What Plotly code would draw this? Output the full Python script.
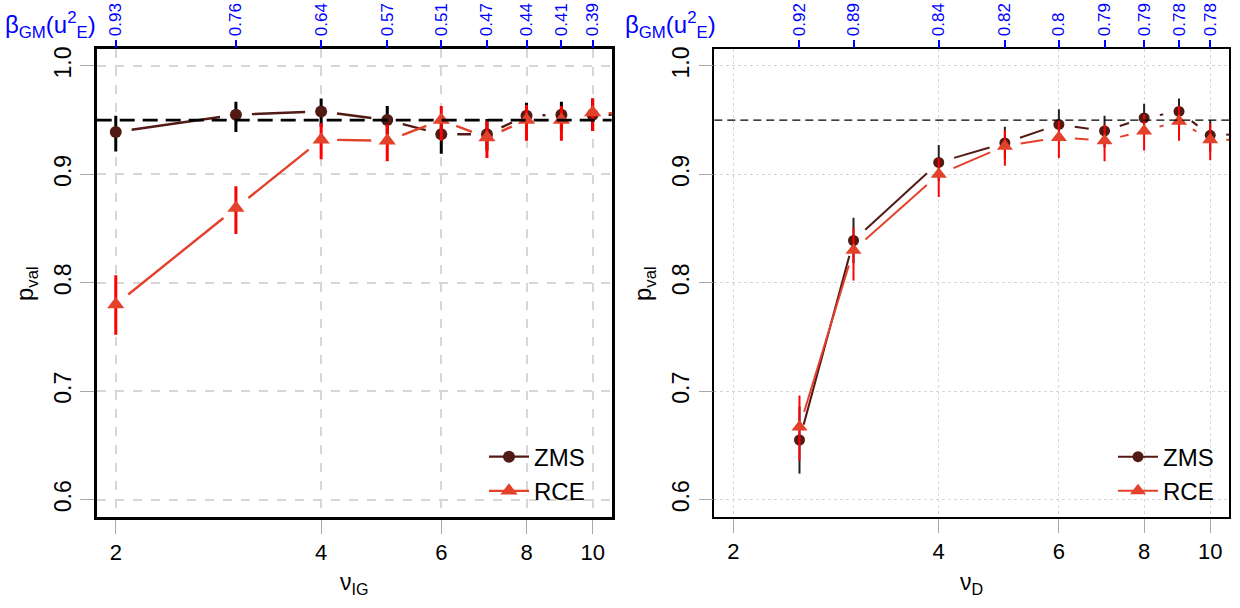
import numpy as np
import plotly.graph_objects as go

# ---------------- data ----------------
nu_ig = [2, 3, 4, 5, 6, 7, 8, 9, 10, 12]
beta_left = ["0.93", "0.76", "0.64", "0.57", "0.51", "0.47", "0.44", "0.41", "0.39"]
zms_left = [0.939, 0.955, 0.958, 0.950, 0.937, 0.937, 0.954, 0.955, 0.955, 0.955]
zms_left_lo = [0.921, 0.939, 0.944, 0.937, 0.919, 0.922, 0.940, 0.941, 0.940, 0.940]
zms_left_hi = [0.954, 0.967, 0.970, 0.963, 0.950, 0.951, 0.966, 0.967, 0.970, 0.970]
rce_left = [0.780, 0.869, 0.932, 0.931, 0.950, 0.934, 0.950, 0.950, 0.957, 0.955]
rce_left_lo = [0.752, 0.845, 0.914, 0.912, 0.931, 0.915, 0.931, 0.931, 0.940, 0.938]
rce_left_hi = [0.807, 0.889, 0.947, 0.946, 0.963, 0.949, 0.964, 0.963, 0.970, 0.968]

nu_d = [2.5, 3, 4, 5, 6, 7, 8, 9, 10, 12]
beta_right = ["0.92", "0.89", "0.84", "0.82", "0.8", "0.79", "0.79", "0.78", "0.78"]
zms_right = [0.655, 0.839, 0.911, 0.929, 0.946, 0.940, 0.952, 0.958, 0.936, 0.938]
zms_right_lo = [0.624, 0.818, 0.894, 0.914, 0.932, 0.925, 0.939, 0.946, 0.921, 0.923]
zms_right_hi = [0.686, 0.860, 0.927, 0.944, 0.960, 0.954, 0.965, 0.970, 0.950, 0.952]
rce_right = [0.667, 0.830, 0.900, 0.926, 0.934, 0.931, 0.940, 0.949, 0.932, 0.932]
rce_right_lo = [0.636, 0.802, 0.879, 0.908, 0.915, 0.912, 0.922, 0.931, 0.913, 0.913]
rce_right_hi = [0.696, 0.851, 0.915, 0.941, 0.950, 0.946, 0.955, 0.963, 0.947, 0.947]

x_ticks = [2, 4, 6, 8, 10]
y_ticks = [0.6, 0.7, 0.8, 0.9, 1.0]
target = 0.95

# ---------------- style ----------------
W, H = 1240, 608
ZMS_COL = "#521a14"
RCE_COL = "#e4412b"
BLUE = "#0000ff"
FONT = "Liberation Sans, Arial, sans-serif"
XR = [np.log10(2) - 0.04 * np.log10(5), 1 + 0.04 * np.log10(5)]
YR = [0.6 - 0.016, 1.0 + 0.016]
left_px = (96.7, 611.7)
right_px = (714.3, 1229.3)
top_px, bot_px = 46.7, 516.7
PPD = (left_px[1] - left_px[0]) / (XR[1] - XR[0])
PPU = (bot_px - top_px) / (YR[1] - YR[0])
GAP = 16.0


def gapped(xs, ys):
    """Line segments between consecutive points, with a gap round each point (R type='b')."""
    sx, sy = [], []
    for i in range(len(xs) - 1):
        lx1, lx2 = np.log10(xs[i]), np.log10(xs[i + 1])
        dx = (lx2 - lx1) * PPD
        dy = (ys[i + 1] - ys[i]) * PPU
        L = np.hypot(dx, dy)
        if L <= 2 * GAP:
            continue
        f = GAP / L
        a, b = f, 1 - f
        sx += [10 ** (lx1 + a * (lx2 - lx1)), 10 ** (lx1 + b * (lx2 - lx1)), None]
        sy += [ys[i] + a * (ys[i + 1] - ys[i]), ys[i] + b * (ys[i + 1] - ys[i]), None]
    return sx, sy


fig = go.Figure()


def add_panel(xs, series, xa, ya, lw, ew, msz, legend):
    for name, y, lo, hi, col, ecol, sym in series:
        y = np.array(y)
        sx, sy = gapped(xs, list(y))
        size = msz + (3 if sym == "triangle-up" else 0)
        fig.add_trace(go.Scatter(x=sx, y=sy, mode="lines", line=dict(color=col, width=lw),
                                 xaxis=xa, yaxis=ya, showlegend=False, hoverinfo="skip"))
        fig.add_trace(go.Scatter(
            x=xs, y=y, mode="markers",
            marker=dict(color=col, size=size, symbol=sym, line=dict(width=0)),
            error_y=dict(type="data", array=np.array(hi) - y, arrayminus=y - np.array(lo),
                         color=ecol, thickness=ew, width=0),
            xaxis=xa, yaxis=ya, showlegend=False))
        fig.add_trace(go.Scatter(
            x=[None], y=[None], mode="lines+markers", name=name,
            line=dict(color=col, width=lw),
            marker=dict(color=col, size=size, symbol=sym),
            xaxis=xa, yaxis=ya, legend=legend, showlegend=True))


add_panel(nu_ig, [("ZMS", zms_left, zms_left_lo, zms_left_hi, ZMS_COL, "#000000", "circle"),
                  ("RCE", rce_left, rce_left_lo, rce_left_hi, RCE_COL, "#ff0000", "triangle-up")],
          "x", "y", 2.4, 3, 12, "legend")
add_panel(nu_d, [("ZMS", zms_right, zms_right_lo, zms_right_hi, ZMS_COL, "#222222", "circle"),
                 ("RCE", rce_right, rce_right_lo, rce_right_hi, RCE_COL, "#ff0000", "triangle-up")],
          "x2", "y2", 2.0, 2, 11, "legend2")

# invisible traces to bind the top axes
fig.add_trace(go.Scatter(x=[nu_ig[0]], y=[None], xaxis="x3", yaxis="y", showlegend=False, hoverinfo="skip"))
fig.add_trace(go.Scatter(x=[nu_d[0]], y=[None], xaxis="x4", yaxis="y2", showlegend=False, hoverinfo="skip"))

dom_y = [1 - bot_px / H, 1 - top_px / H]
dom_l = [left_px[0] / W, left_px[1] / W]
dom_r = [right_px[0] / W, right_px[1] / W]


def xaxis_cfg(dom, grid_dash, grid_w, line_w, anchor):
    return dict(domain=dom, anchor=anchor, type="log", range=XR, tickvals=x_ticks,
                ticktext=[str(v) for v in x_ticks], ticks="outside", ticklen=14, tickwidth=1,
                tickcolor="#a8a8a8", tickfont=dict(size=22, color="#000000"),
                showgrid=True, gridcolor="#d6d6d6", griddash=grid_dash, gridwidth=grid_w,
                showline=True, mirror=True, linecolor="#000000", linewidth=line_w, zeroline=False)


def yaxis_cfg(grid_dash, grid_w, line_w, anchor):
    return dict(domain=dom_y, anchor=anchor, range=YR, tickvals=y_ticks,
                ticktext=["%.1f" % v for v in y_ticks], tickangle=-90, ticks="outside", ticklen=14,
                tickwidth=1, tickcolor="#a8a8a8", tickfont=dict(size=23, color="#000000"),
                showgrid=True, gridcolor="#d6d6d6", griddash=grid_dash, gridwidth=grid_w,
                showline=True, mirror=True, linecolor="#000000", linewidth=line_w, zeroline=False)


def top_cfg(over, anchor, vals, labels):
    return dict(overlaying=over, anchor=anchor, side="top", type="log", range=XR,
                tickvals=vals, ticktext=labels, tickangle=-90, ticks="outside", ticklen=8,
                tickwidth=1.5, tickcolor=BLUE, tickfont=dict(size=17, color=BLUE),
                showgrid=False, showline=False, zeroline=False)


fig.update_layout(
    width=W, height=H, margin=dict(l=0, r=0, t=0, b=0),
    paper_bgcolor="white", plot_bgcolor="white",
    font=dict(family=FONT, size=22, color="#000000"),
    xaxis=xaxis_cfg(dom_l, "dash", 2, 3, "y"),
    yaxis=yaxis_cfg("dash", 2, 3, "x"),
    xaxis2=xaxis_cfg(dom_r, "dot", 1, 1.5, "y2"),
    yaxis2=yaxis_cfg("dot", 1, 1.5, "x2"),
    xaxis3=top_cfg("x", "y", nu_ig[:9], beta_left),
    xaxis4=top_cfg("x2", "y2", nu_d[:9], beta_right),
    legend=dict(x=484 / W, y=1 - 434 / H, xanchor="left", yanchor="top", bgcolor="rgba(0,0,0,0)",
                font=dict(size=24), tracegroupgap=0, itemwidth=40),
    legend2=dict(x=1113 / W, y=1 - 434 / H, xanchor="left", yanchor="top", bgcolor="rgba(0,0,0,0)",
                 font=dict(size=24), tracegroupgap=0, itemwidth=40),
    showlegend=True,
)

for xa, ya in (("x", "y"), ("x2", "y2")):
    left = xa == "x"
    fig.add_shape(type="line", xref=xa + " domain", yref=ya, x0=0, x1=1, y0=target, y1=target,
                  line=dict(color="#000000", width=2.6 if left else 1.4,
                            dash="15px,8px" if left else "8px,5px"), layer="above")

ann = []
for cx, lab in (((left_px[0] + left_px[1]) / 2, "ν<sub>IG</sub>"), ((right_px[0] + right_px[1]) / 2, "ν<sub>D</sub>")):
    ann.append(dict(x=cx / W, y=1 - 583 / H, xref="paper", yref="paper", text=lab, showarrow=False,
                    font=dict(size=23), xanchor="center", yanchor="middle"))
for cx in (26, 644):
    ann.append(dict(x=cx / W, y=1 - 283 / H, xref="paper", yref="paper", text="p<sub>val</sub>",
                    showarrow=False, textangle=-90, font=dict(size=24), xanchor="center", yanchor="middle"))
for lx in (3, 623):
    ann.append(dict(x=lx / W, y=1 - 23 / H, xref="paper", yref="paper",
                    text="β<sub>GM</sub>(u<sup>2</sup><sub>E</sub>)", showarrow=False,
                    font=dict(size=24, color=BLUE), xanchor="left", yanchor="middle"))
fig.update_layout(annotations=ann)

fig.write_html("out.html", config={"displayModeBar": False},
               post_script="document.body.style.margin='0';document.body.style.padding='0';")
